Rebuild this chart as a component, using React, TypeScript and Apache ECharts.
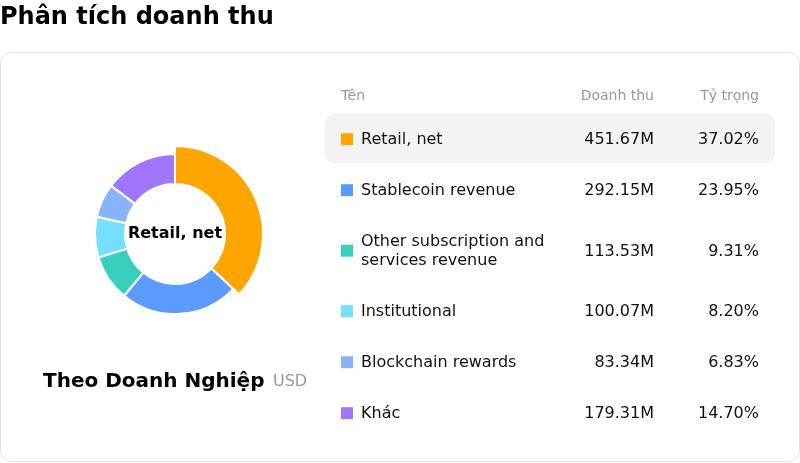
import React, { useEffect, useRef } from 'react'
import * as echarts from 'echarts'

// dữ liệu
const categories = [
  'Retail, net',
  'Stablecoin revenue',
  'Other subscription and services revenue',
  'Institutional',
  'Blockchain rewards',
  'Khác',
]
const revenueM = [451.67, 292.15, 113.53, 100.07, 83.34, 179.31]
const headers = ['Tên', 'Doanh thu', 'Tỷ trọng']
const palette = ['#FFA500', '#5B9BFF', '#38CFBF', '#76DFFF', '#88B4FF', '#A176FF']

const FONT = '"DejaVu Sans", sans-serif'
const NAME_WIDTH = 200

function measure(text: string, font: string) {
  const ctx = document.createElement('canvas').getContext('2d')
  if (!ctx) return 0
  ctx.font = font
  return ctx.measureText(text).width
}

function buildTable() {
  const total = revenueM.reduce((a, b) => a + b, 0)
  const els: any[] = []

  // tiêu đề cột
  els.push(
    { type: 'text', x: 341, y: 95, style: { text: headers[0], font: `14px ${FONT}`, fill: '#999', textVerticalAlign: 'middle' } },
    { type: 'text', x: 654, y: 95, style: { text: headers[1], font: `14px ${FONT}`, fill: '#999', textAlign: 'right', textVerticalAlign: 'middle' } },
    { type: 'text', x: 759, y: 95, style: { text: headers[2], font: `14px ${FONT}`, fill: '#999', textAlign: 'right', textVerticalAlign: 'middle' } },
  )

  let top = 113.2
  categories.forEach((name, i) => {
    const twoLines = measure(name, `16px ${FONT}`) > NAME_WIDTH
    const h = twoLines ? 70 : 51
    const cy = top + h / 2
    if (i === 0) {
      els.push({ type: 'rect', z: 0, shape: { x: 325, y: top, width: 450, height: 50, r: 10 }, style: { fill: '#f4f4f4' } })
    }
    els.push(
      { type: 'rect', z: 1, shape: { x: 341, y: cy - 5.5, width: 12, height: 12 }, style: { fill: palette[i] } },
      {
        type: 'text', z: 1, x: 361, y: cy,
        style: { text: name, font: `16px ${FONT}`, fill: '#111', width: NAME_WIDTH, overflow: 'break', lineHeight: 19, textVerticalAlign: 'middle' },
      },
      {
        type: 'text', z: 1, x: 654, y: cy,
        style: { text: revenueM[i].toFixed(2) + 'M', font: `16px ${FONT}`, fill: '#111', textAlign: 'right', textVerticalAlign: 'middle' },
      },
      {
        type: 'text', z: 1, x: 759, y: cy,
        style: { text: ((revenueM[i] / total) * 100).toFixed(2) + '%', font: `16px ${FONT}`, fill: '#111', textAlign: 'right', textVerticalAlign: 'middle' },
      },
    )
    top += h
  })
  return els
}

export default function App() {
  const ref = useRef<HTMLDivElement>(null)

  useEffect(() => {
    const chart = echarts.init(ref.current as HTMLDivElement, undefined, { renderer: 'svg' })
    chart.setOption({
      animation: false,
      textStyle: { fontFamily: FONT },
      graphic: [
        {
          type: 'group',
          z: -1,
          children: [
            { type: 'rect', shape: { x: 0.5, y: 52.5, width: 799, height: 409, r: 10 }, style: { fill: '#fff', stroke: '#e2e0ed', lineWidth: 1 } },
            { type: 'text', x: 0, y: 16, style: { text: 'Phân tích doanh thu', font: `bold 24px ${FONT}`, fill: '#000', textVerticalAlign: 'middle' } },
            { type: 'text', x: 43, y: 380, style: { text: 'Theo Doanh Nghiệp', font: `bold 20px ${FONT}`, fill: '#000', textVerticalAlign: 'middle' } },
            { type: 'text', x: 273, y: 380, style: { text: 'USD', font: `16px ${FONT}`, fill: '#999', textVerticalAlign: 'middle' } },
            ...buildTable(),
          ],
        },
      ],
      series: [
        {
          type: 'pie',
          z: 5,
          center: [175, 234],
          radius: [50, 80],
          startAngle: 90,
          clockwise: true,
          avoidLabelOverlap: false,
          itemStyle: { borderColor: '#fff', borderWidth: 2 },
          label: { show: false, position: 'center' },
          labelLine: { show: false },
          emphasis: {
            scale: true,
            scaleSize: 8,
            label: { show: true, fontSize: 16, fontWeight: 'bold', color: '#000', fontFamily: FONT, offset: [0, -2] },
          },
          data: categories.map((name, i) => ({
            name,
            value: revenueM[i],
            itemStyle: { color: palette[i] },
            emphasis: { itemStyle: { color: palette[i] } },
          })),
        },
      ],
    })
    chart.dispatchAction({ type: 'highlight', seriesIndex: 0, dataIndex: 0 })
    return () => {
      chart.dispose()
    }
  }, [])

  return <div ref={ref} style={{ position: 'fixed', left: 0, top: 0, width: 800, height: 463 }} />
}
